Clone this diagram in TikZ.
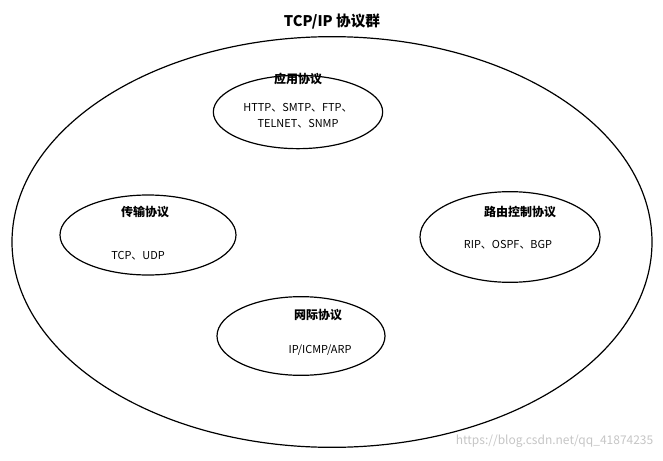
\documentclass[tikz,border=0pt]{standalone}
\usepackage{fontspec}
\setmainfont{Noto Sans CJK SC}
\usetikzlibrary{shapes.geometric}
\begin{document}
\begin{tikzpicture}[x=0.75pt,y=-0.75pt,
  ell/.style={draw,ellipse,line width=0.9pt,inner sep=0pt},
  ttl/.style={font=\fontsize{9}{11}\selectfont\bfseries},
  txt/.style={font=\fontsize{8.2}{12}\selectfont,align=center}]
\useasboundingbox[fill=white] (0,0) rectangle (663,460);
\node[ell,minimum width=480pt,minimum height=308pt] (outer) at (332,242) {};
\node[font=\fontsize{11}{13}\selectfont\bfseries] (title) at (332,22) {TCP/IP 协议群};
\node[ell,minimum width=127pt,minimum height=55pt] (app) at (298,112) {};
\node[ttl] (appt) at (298,79) {应用协议};
\node[txt] (appx) at (298,116) {HTTP、SMTP、FTP、\\TELNET、SNMP};
\node[ell,minimum width=132pt,minimum height=60pt] (tr) at (148,235) {};
\node[ttl] (trt) at (145,212) {传输协议};
\node[txt] (trx) at (138,256) {TCP、UDP};
\node[ell,minimum width=135pt,minimum height=68pt] (rt) at (510,237) {};
\node[ttl] (rtt) at (520,212) {路由控制协议};
\node[txt] (rtx) at (508,245) {RIP、OSPF、BGP};
\node[ell,minimum width=126pt,minimum height=59pt] (net) at (301,336) {};
\node[ttl] (nett) at (318,315) {网际协议};
\node[txt] (netx) at (320,350) {IP/ICMP/ARP};
\node[font=\fontsize{9}{11}\selectfont,text=gray!45,anchor=east] (wm) at (658,441) {https://blog.csdn.net/qq\_41874235};
\end{tikzpicture}
\end{document}
